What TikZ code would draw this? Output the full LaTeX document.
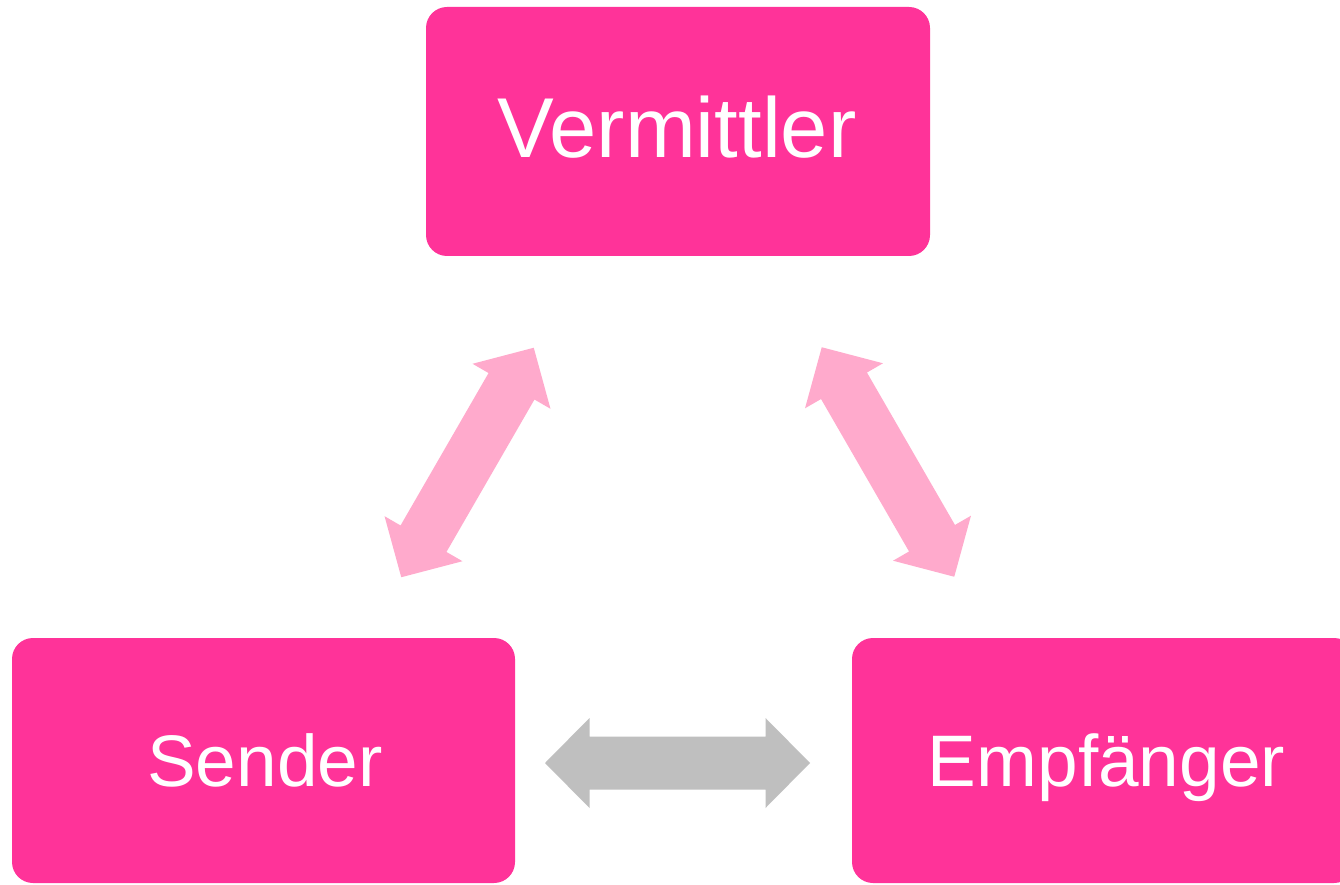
\documentclass[tikz,border=0pt]{standalone}
\usepackage{fontspec}
\setmainfont{Liberation Sans}
\definecolor{boxpink}{HTML}{FF3399}
\definecolor{lightpink}{HTML}{FFAACC}
\definecolor{arrowgray}{HTML}{BFBFBF}
\tikzset{
  box/.style={fill=boxpink, draw=none, rounded corners=21pt, inner sep=0pt},
  lbl/.style={text=white, inner sep=0pt, anchor=base},
  bigfont/.style={font=\fontsize{85}{100}\selectfont},
  midfont/.style={font=\fontsize{73}{88}\selectfont},
  pics/dblarrow/.style={code={
    \fill[#1] (-132.5,0) -- (-88,45) -- (-88,26.5) -- (88,26.5) -- (88,45)
      -- (132.5,0) -- (88,-45) -- (88,-26.5) -- (-88,-26.5) -- (-88,-45) -- cycle;
  }}
}
\begin{document}
\begin{tikzpicture}[x=1pt,y=1pt]
\useasboundingbox (0,0) rectangle (1340,884);
\clip (0,0) rectangle (1340,884);
\fill[white] (0,0) rectangle (1340,884);
% boxes
\node[box, minimum width=504pt, minimum height=249pt] (vermittler) at (678,752.5) {};
\node[box, minimum width=503pt, minimum height=245pt] (sender) at (263.5,123.5) {};
\node[box, minimum width=503pt, minimum height=245pt] (empf) at (1103.5,123.5) {};
% labels
\node[lbl, bigfont] (vtext) at (677,726.3) {Vermittler};
\node[lbl, midfont] (stext) at (265,98) {Sender};
\node[lbl, midfont] (etext) at (1106.5,98) {Empfänger};
% block double arrows
\pic[rotate=60] (arrowSV) at (467.5,421.5) {dblarrow=lightpink};
\pic[rotate=-60] (arrowVE) at (888,422) {dblarrow=lightpink};
\pic (arrowSE) at (677.5,121) {dblarrow=arrowgray};
\end{tikzpicture}
\end{document}
